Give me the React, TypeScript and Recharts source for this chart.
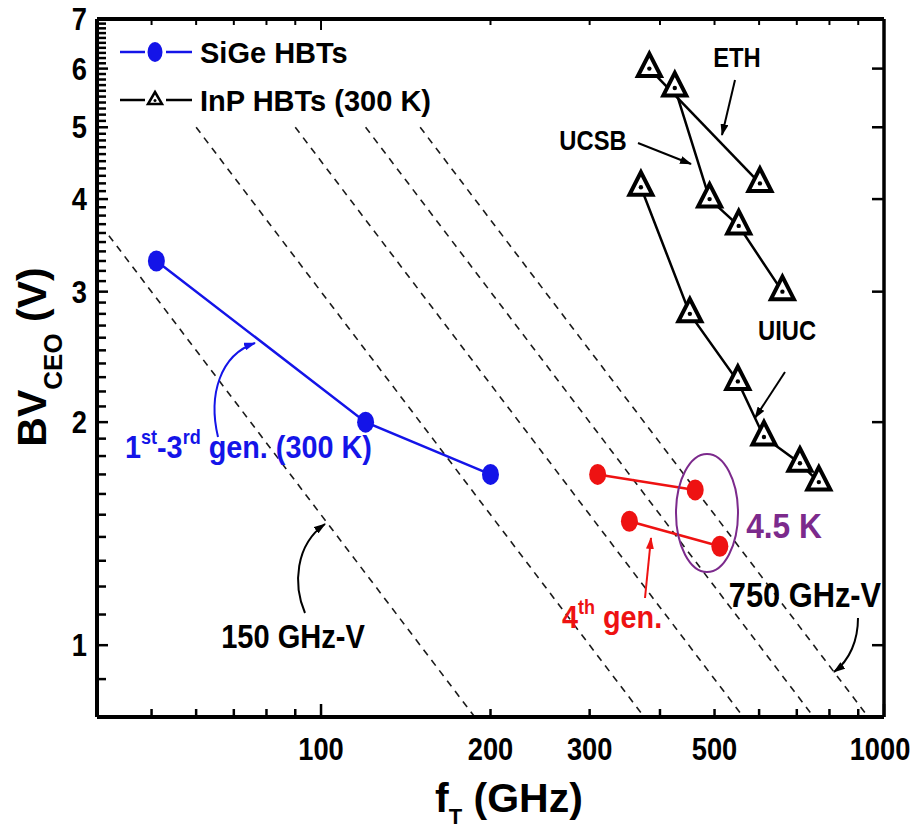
import React from 'react';
import { ComposedChart, Line, XAxis, YAxis } from 'recharts';

// SiGe HBTs, 1st-3rd generation (300 K)
const sigeF = [51, 120, 200];
const sigeBV = [3.3, 2.0, 1.7];

// SiGe 4th generation, 300 K -> 4.5 K
const gen4aF = [310, 462];
const gen4aBV = [1.7, 1.62];
const gen4bF = [353, 511];
const gen4bBV = [1.47, 1.36];

// InP HBTs (300 K)
const ethF = [383, 602];
const ethBV = [6.0, 4.2];
const ucsbF = [425, 490, 552, 660];
const ucsbBV = [5.65, 4.0, 3.68, 3.0];
const uiucF = [370, 452, 550, 612, 709, 766];
const uiucBV = [4.15, 2.8, 2.27, 1.91, 1.76, 1.66];

// constant fT*BVceo lines (GHz-V), start / end points
const isoStartF = [42, 60, 90, 120, 150];
const isoStartBV = [3.57, 5, 5, 5, 5];
const isoEndF = [187.5, 375, 562.5, 750, 937.5];
const isoEndBV = [0.8, 0.8, 0.8, 0.8, 0.8];

const xTicks = [50, 60, 70, 80, 90, 100, 200, 300, 400, 500, 600, 700, 800, 900, 1000];
const xLabels = [100, 200, 300, 500, 1000];
const yLabels = [1, 2, 3, 4, 5, 6, 7];
const yMinor = Array.from({ length: 63 }, (_, i) => Math.round(8 + i) / 10);

const BLUE = '#1414e8';
const RED = '#ee1212';
const PURPLE = '#7c2a8c';
const FONT = '"Liberation Sans", Arial, Helvetica, sans-serif';

const pts = (f: number[], bv: number[]) => f.map((v, i) => ({ f: v, bv: bv[i] }));

const Ell = (color: string) => (p: any) => (
  <ellipse key={p.index} cx={p.cx} cy={p.cy} rx={8.5} ry={10.5} fill={color} />
);

const Tri = (p: any) => {
  const { cx, cy } = p;
  return (
    <g key={p.index}>
      <path
        d={`M${cx},${cy - 15} L${cx + 11.5},${cy + 7.5} L${cx - 11.5},${cy + 7.5} Z`}
        fill="#fff"
        stroke="#000"
        strokeWidth={4}
      />
      <circle cx={cx} cy={cy} r={2.2} fill="#000" />
    </g>
  );
};

const T = ({ x, y, size, fill = '#000', anchor = 'middle', sx = 0.88, children }: any) => (
  <text
    transform={`translate(${x} ${y}) scale(${sx} 1)`}
    textAnchor={anchor}
    fontSize={size}
    fontWeight="bold"
    fontFamily={FONT}
    fill={fill}
  >
    {children}
  </text>
);

const BottomTick = (p: any) => {
  const v = p.payload.value;
  const len = v === 100 || v === 1000 ? 13 : 8;
  return (
    <g>
      <line x1={p.x} x2={p.x} y1={p.y} y2={p.y - len} stroke="#000" strokeWidth={2.5} />
      {xLabels.includes(v) && <T x={v === 1000 ? p.x - 4 : p.x} y={p.y + 43} size={31}>{v}</T>}
    </g>
  );
};

const TopTick = (p: any) => {
  const v = p.payload.value;
  const len = v === 100 || v === 1000 ? 11 : 6;
  return <line x1={p.x} x2={p.x} y1={p.y} y2={p.y + len} stroke="#000" strokeWidth={2} />;
};

const LeftTick = (p: any) => {
  const v = Math.round(p.payload.value * 10) / 10;
  const major = yLabels.includes(v);
  return (
    <g>
      <line x1={p.x} x2={p.x + (major ? 11 : 9)} y1={p.y} y2={p.y} stroke="#000" strokeWidth={2.5} />
      {major && <T x={p.x - 10} y={p.y + 11} size={31} anchor="end">{v}</T>}
    </g>
  );
};

const RightTick = (p: any) => (
  <line x1={p.x} x2={p.x - 12} y1={p.y} y2={p.y} stroke="#000" strokeWidth={2.5} />
);

export default function App() {
  const iso = isoStartF.map((f, i) => pts([f, isoEndF[i]], [isoStartBV[i], isoEndBV[i]]));
  return (
    <div style={{ position: 'absolute', left: 0, top: 0, width: 920, height: 832, background: '#fff' }}>
      <ComposedChart width={920} height={832} margin={{ top: 18, right: 35, bottom: 114, left: 96 }}>
        <XAxis
          xAxisId="b"
          dataKey="f"
          type="number"
          scale="log"
          domain={[40, 1000]}
          allowDataOverflow
          ticks={xTicks}
          interval={0}
          height={1}
          tickSize={0}
          tickMargin={0}
          tickLine={false}
          tick={<BottomTick />}
          axisLine={{ stroke: '#000', strokeWidth: 4 }}
        />
        <XAxis
          xAxisId="t"
          orientation="top"
          dataKey="f"
          type="number"
          scale="log"
          domain={[40, 1000]}
          allowDataOverflow
          ticks={xTicks}
          interval={0}
          height={1}
          tickSize={0}
          tickMargin={0}
          tickLine={false}
          tick={<TopTick />}
          axisLine={{ stroke: '#000', strokeWidth: 4 }}
        />
        <YAxis
          yAxisId="l"
          type="number"
          scale="log"
          domain={[0.8, 7]}
          allowDataOverflow
          ticks={yMinor}
          interval={0}
          width={1}
          tickSize={0}
          tickMargin={0}
          tickLine={false}
          tick={<LeftTick />}
          axisLine={{ stroke: '#000', strokeWidth: 4 }}
        />
        <YAxis
          yAxisId="r"
          orientation="right"
          type="number"
          scale="log"
          domain={[0.8, 7]}
          allowDataOverflow
          ticks={yLabels}
          interval={0}
          width={1}
          tickSize={0}
          tickMargin={0}
          tickLine={false}
          tick={<RightTick />}
          axisLine={{ stroke: '#000', strokeWidth: 3.5 }}
        />
        {iso.map((d, i) => (
          <Line
            key={'iso' + i}
            xAxisId="b"
            yAxisId="l"
            data={d}
            dataKey="bv"
            stroke="#1a1a1a"
            strokeWidth={1.6}
            strokeDasharray="7 6"
            dot={false}
            activeDot={false}
            isAnimationActive={false}
          />
        ))}
        <Line xAxisId="b" yAxisId="l" data={pts(sigeF, sigeBV)} dataKey="bv" stroke={BLUE} strokeWidth={2.5}
          dot={Ell(BLUE)} activeDot={false} isAnimationActive={false} />
        <Line xAxisId="b" yAxisId="l" data={pts(gen4aF, gen4aBV)} dataKey="bv" stroke={RED} strokeWidth={2.5}
          dot={Ell(RED)} activeDot={false} isAnimationActive={false} />
        <Line xAxisId="b" yAxisId="l" data={pts(gen4bF, gen4bBV)} dataKey="bv" stroke={RED} strokeWidth={2.5}
          dot={Ell(RED)} activeDot={false} isAnimationActive={false} />
        <Line xAxisId="b" yAxisId="l" data={pts(ethF, ethBV)} dataKey="bv" stroke="#000" strokeWidth={2.5}
          dot={Tri} activeDot={false} isAnimationActive={false} />
        <Line xAxisId="b" yAxisId="l" data={pts(ucsbF, ucsbBV)} dataKey="bv" stroke="#000" strokeWidth={2.5}
          dot={Tri} activeDot={false} isAnimationActive={false} />
        <Line xAxisId="b" yAxisId="l" data={pts(uiucF, uiucBV)} dataKey="bv" stroke="#000" strokeWidth={2.5}
          dot={Tri} activeDot={false} isAnimationActive={false} />
      </ComposedChart>

      {/* annotations, legend and axis titles */}
      <svg width={920} height={832} style={{ position: 'absolute', left: 0, top: 0, pointerEvents: 'none' }}>
        <defs>
          {[['k', '#000'], ['r', RED], ['b', BLUE]].map(([id, c]) => (
            <marker key={id} id={'ah' + id} viewBox="0 0 12 8" refX={11} refY={4} markerWidth={12} markerHeight={8}
              markerUnits="userSpaceOnUse" orient="auto">
              <path d="M0,0 L12,4 L0,8 z" fill={c} />
            </marker>
          ))}
        </defs>

        {/* legend */}
        <line x1={120} x2={145} y1={52} y2={52} stroke={BLUE} strokeWidth={2.5} />
        <line x1={166} x2={192} y1={52} y2={52} stroke={BLUE} strokeWidth={2.5} />
        <ellipse cx={155} cy={52} rx={7.5} ry={10} fill={BLUE} />
        <T x={200} y={63} size={29} anchor="start" sx={1}>SiGe HBTs</T>
        <line x1={120} x2={145} y1={100} y2={100} stroke="#000" strokeWidth={2.5} />
        <line x1={166} x2={192} y1={100} y2={100} stroke="#000" strokeWidth={2.5} />
        <path d="M155,92 L162,104 L148,104 Z" fill="#fff" stroke="#000" strokeWidth={2.5} />
        <circle cx={155} cy={100.5} r={1.5} fill="#000" />
        <T x={200} y={111} size={29} anchor="start" sx={1}>InP HBTs (300 K)</T>

        {/* InP labels */}
        <T x={737} y={67} size={27}>ETH</T>
        <line x1={735} y1={80} x2={722} y2={135} stroke="#000" strokeWidth={2} markerEnd="url(#ahk)" />
        <T x={593} y={150} size={27}>UCSB</T>
        <line x1={638} y1={143} x2={691} y2={164} stroke="#000" strokeWidth={2} markerEnd="url(#ahk)" />
        <T x={787} y={340} size={27}>UIUC</T>
        <line x1={785} y1={372} x2={755} y2={418} stroke="#000" strokeWidth={2} markerEnd="url(#ahk)" />

        {/* 4.5 K */}
        <ellipse cx={707} cy={513} rx={31} ry={59} fill="none" stroke={PURPLE} strokeWidth={2} />
        <T x={784} y={538} size={36} fill={PURPLE}>4.5 K</T>

        {/* 4th gen */}
        <text transform="translate(562 628) scale(0.9 1)" fontSize={32} fontWeight="bold" fontFamily={FONT} fill={RED}>
          4<tspan fontSize={20} dy={-14}>th</tspan>
          <tspan dy={14}> gen.</tspan>
        </text>
        <line x1={645} y1={598} x2={651} y2={538} stroke={RED} strokeWidth={2} markerEnd="url(#ahr)" />

        {/* 1st-3rd gen */}
        <text transform="translate(125 458) scale(0.9 1)" fontSize={32} fontWeight="bold" fontFamily={FONT} fill={BLUE}>
          1<tspan fontSize={20} dy={-14}>st</tspan>
          <tspan dy={14}>-3</tspan>
          <tspan fontSize={20} dy={-14}>rd</tspan>
          <tspan dy={14}> gen. (300 K)</tspan>
        </text>
        <path d="M218,437 C208,395 220,355 255,343" fill="none" stroke={BLUE} strokeWidth={2} markerEnd="url(#ahb)" />

        {/* iso labels */}
        <T x={293} y={648} size={33}>150 GHz-V</T>
        <path d="M305,613 C293,585 295,545 325,524" fill="none" stroke="#000" strokeWidth={2} markerEnd="url(#ahk)" />
        <T x={805} y={607} size={35}>750 GHz-V</T>
        <path d="M858,618 C858,640 850,660 834,672" fill="none" stroke="#000" strokeWidth={2} markerEnd="url(#ahk)" />

        {/* axis titles */}
        <text x={435} y={812} fontSize={41} fontWeight="bold" fontFamily={FONT}>
          f<tspan fontSize={22} dy={12}>T</tspan>
          <tspan dy={-12}> (GHz)</tspan>
        </text>
        <text transform="translate(46 357) rotate(-90)" textAnchor="middle" fontSize={41} fontWeight="bold" fontFamily={FONT}>
          BV<tspan fontSize={26} dy={16}>CEO</tspan>
          <tspan dy={-16}> (V)</tspan>
        </text>
      </svg>
    </div>
  );
}
